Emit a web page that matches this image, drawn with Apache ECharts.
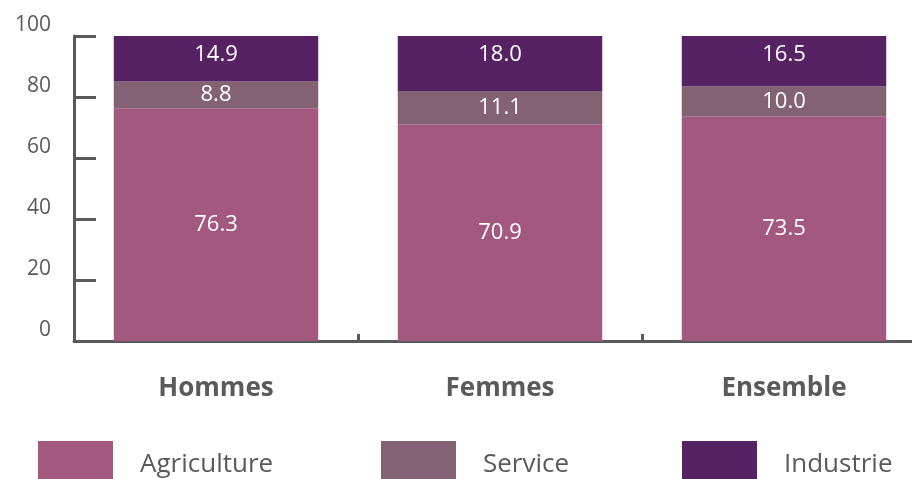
<!DOCTYPE html>
<html>
<head>
<meta charset="utf-8">
<script src="https://cdn.jsdelivr.net/npm/echarts@6/dist/echarts.min.js"></script>
<style>
  html, body { margin: 0; padding: 0; background: #fff; }
  #chart { width: 912px; height: 479px; }
</style>
</head>
<body>
<div id="chart"></div>
<script>
const categories = ['Hommes', 'Femmes', 'Ensemble']
const agriculture = [76.3, 70.9, 73.5]
const service = [8.8, 11.1, 10.0]
const industrie = [14.9, 18.0, 16.5]
const yTicks = [0, 20, 40, 60, 80, 100]

const FONT = '"Open Sans", sans-serif'
const GREY = '#5a5a5a'
const COLORS = { Agriculture: '#a2587f', Service: '#826273', Industrie: '#562263' }

const chart = echarts.init(document.getElementById('chart'))

function barSeries(name, data, labelPos) {
  return {
    name,
    type: 'bar',
    stack: 'total',
    barWidth: '72%',
    itemStyle: { color: COLORS[name] },
    label: {
      show: true,
      position: labelPos || 'inside',
      align: 'center',
      verticalAlign: 'middle',
      color: '#fff',
      fontFamily: FONT,
      fontSize: 22,
      formatter: p => p.value.toFixed(1),
    },
    data,
  }
}

// la case déborde en bas du canevas comme dans l'original
function legendAt(name, left) {
  return {
    data: [name],
    left, top: 441,
    padding: 0,
    itemWidth: 75, itemHeight: 48,
    icon: 'rect',
    selectedMode: false,
    textStyle: { color: GREY, fontFamily: FONT, fontSize: 26, padding: [0, 0, 0, 22] },
  }
}

chart.setOption({
  animation: false,
  legend: [
    legendAt('Agriculture', 38),
    legendAt('Service', 381),
    legendAt('Industrie', 682),
  ],
  grid: { left: 74, top: 36, width: 852, height: 305, outerBoundsMode: 'none', containLabel: false },
  xAxis: {
    type: 'category',
    data: categories,
    axisLine: { lineStyle: { color: GREY, width: 3 } },
    axisTick: { show: true, inside: true, length: 7, lineStyle: { color: GREY, width: 3 } },
    axisLabel: { color: GREY, fontFamily: FONT, fontSize: 26, fontWeight: 'bold', margin: 35 },
  },
  yAxis: {
    type: 'value',
    min: 0, max: 100, interval: 20,
    axisLine: { show: true, lineStyle: { color: GREY, width: 3 } },
    axisTick: { show: true, inside: true, length: 22, lineStyle: { color: GREY, width: 3 } },
    splitLine: { show: false },
    axisLabel: {
      color: GREY, fontFamily: FONT, fontSize: 21, margin: 23,
      verticalAlign: 'bottom',
      formatter: v => yTicks.includes(v) ? String(v) : '',
    },
  },
  series: [
    barSeries('Agriculture', agriculture),
    barSeries('Service', service),
    barSeries('Industrie', industrie, ['50%', 19]),
  ],
})
</script>
</body>
</html>
